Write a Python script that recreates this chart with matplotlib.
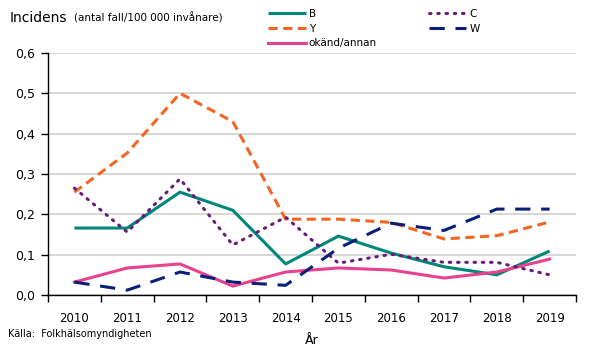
import matplotlib.pyplot as plt
import numpy as np

years = [2010, 2011, 2012, 2013, 2014, 2015, 2016, 2017, 2018, 2019]
B = [0.166, 0.166, 0.255, 0.210, 0.077, 0.146, 0.104, 0.070, 0.050, 0.109]
Y = [0.255, 0.352, 0.500, 0.430, 0.188, 0.188, 0.180, 0.139, 0.147, 0.181]
C = [0.265, 0.156, 0.288, 0.124, 0.193, 0.079, 0.101, 0.081, 0.081, 0.050]
W = [0.032, 0.012, 0.057, 0.032, 0.024, 0.116, 0.178, 0.160, 0.213, 0.213]
okand = [0.032, 0.067, 0.077, 0.022, 0.057, 0.067, 0.062, 0.042, 0.057, 0.089]

fig = plt.figure(figsize=(5.9, 3.51), dpi=100)
ax = fig.add_axes([48/590, 1-295/351, (576-48)/590, (295-53)/351])
pos = np.arange(len(years))

lw = 2.2
lB, = ax.plot(pos, B, color='#00877A', lw=lw, label='B', solid_capstyle='butt')
lY, = ax.plot(pos, Y, color='#F26522', lw=lw, ls=(0, (3, 1.8)), label='Y')
lO, = ax.plot(pos, okand, color='#E6428F', lw=lw, label='okänd/annan')
lC, = ax.plot(pos, C, color='#6A1B7A', lw=lw, ls=(0, (0.5, 2.2)), dash_capstyle='round', label='C')
lW, = ax.plot(pos, W, color='#0B1F78', lw=lw, ls=(0, (5, 3.5)), label='W')

ax.set_xlim(-0.5, 9.5)
ax.set_ylim(0, 0.6)
yt = np.arange(0, 0.61, 0.1)
ax.set_yticks(yt)
ax.set_yticklabels([('%.1f' % v).replace('.', ',') for v in yt])
ax.set_xticks(pos)
ax.set_xticklabels([str(y) for y in years])
ax.set_xticks(np.arange(-0.5, 9.6, 1), minor=True)
ax.tick_params(axis='x', which='major', length=0, pad=12, labelsize=8.5)
ax.tick_params(axis='x', which='minor', length=5, width=1, direction='out')
ax.tick_params(axis='y', length=5, width=1, direction='out', labelsize=9, pad=4)
ax.grid(axis='y', color='#D0D0D0', lw=1.2)
ax.set_axisbelow(True)
for s in ['top', 'right']:
    ax.spines[s].set_visible(False)
ax.spines['left'].set_linewidth(1)
ax.spines['bottom'].set_linewidth(1)

ax.set_xlabel('År', fontsize=9, labelpad=7)

fig.text(10/590, 1-18/351, 'Incidens', fontsize=10, va='center', ha='left')
fig.text(74/590, 1-18/351, '(antal fall/100 000 invånare)', fontsize=7.5, va='center', ha='left')
fig.text(8/590, 1-334/351, 'Källa:  Folkhälsomyndigheten', fontsize=7, va='center', ha='left')

leg = fig.legend([lB, lY, lO, lC, lW], ['B', 'Y', 'okänd/annan', 'C', 'W'],
                 ncol=2, loc='upper left', bbox_to_anchor=(268/590, 1-9/351),
                 frameon=False, fontsize=7.5, handlelength=3.6, handletextpad=0.3,
                 labelspacing=0.45, columnspacing=5.0, borderaxespad=0, borderpad=0)

fig.savefig('out.png', dpi=100)
